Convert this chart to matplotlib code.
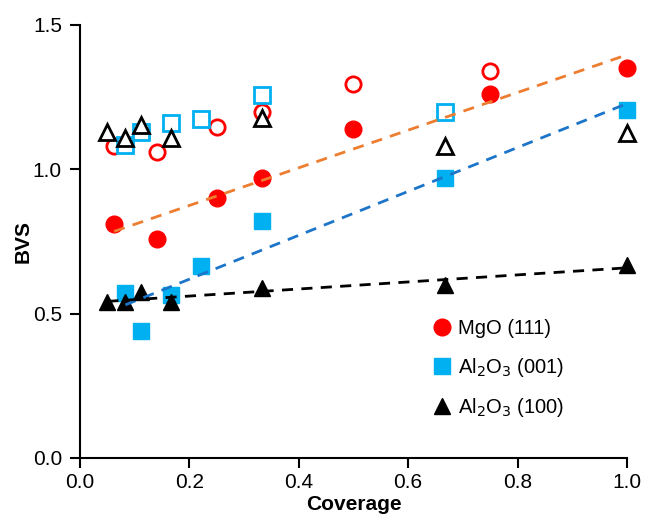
import numpy as np
import matplotlib
matplotlib.use('Agg')
import matplotlib.pyplot as plt
from matplotlib.lines import Line2D

plt.rcParams['font.family'] = ['Liberation Sans', 'DejaVu Sans']

# MgO (111)
mgo_x = [0.0625, 0.14, 0.25, 0.333, 0.5, 0.75, 1.0]
mgo_y = [0.81, 0.76, 0.90, 0.97, 1.14, 1.26, 1.35]
mgo_open_x = [0.0625, 0.14, 0.25, 0.333, 0.5, 0.75]
mgo_open_y = [1.08, 1.06, 1.145, 1.20, 1.295, 1.34]

# Al2O3 (001)
a001_x = [0.083, 0.111, 0.167, 0.222, 0.333, 0.667, 1.0]
a001_y = [0.57, 0.44, 0.565, 0.665, 0.82, 0.97, 1.205]
a001_open_x = [0.083, 0.111, 0.167, 0.222, 0.333, 0.667]
a001_open_y = [1.085, 1.13, 1.16, 1.175, 1.258, 1.20]

# Al2O3 (100)
a100_x = [0.05, 0.083, 0.111, 0.167, 0.333, 0.667, 1.0]
a100_y = [0.54, 0.54, 0.574, 0.54, 0.588, 0.60, 0.668]
a100_open_x = [0.05, 0.083, 0.111, 0.167, 0.333, 0.667, 1.0]
a100_open_y = [1.13, 1.11, 1.153, 1.107, 1.177, 1.08, 1.125]

red = '#FF0000'
cyan = '#00B0F0'
orange = '#ED7D31'
blue_line = '#1C75C8'

fig = plt.figure(figsize=(6.47, 5.15), dpi=100)
ax = fig.add_axes([0.1236, 0.1107, 0.8454, 0.8408])


def fit_line(x, y, color):
    k, b = np.polyfit(x, y, 1)
    xs = np.array([min(x), max(x)])
    ax.plot(xs, k * xs + b, color=color, linewidth=2, linestyle=(0, (4, 3)), zorder=5)


# open markers (behind)
ax.plot(mgo_open_x, mgo_open_y, 'o', ms=11, mfc='white', mec=red, mew=2, ls='none', zorder=2, clip_on=False)
ax.plot(a001_open_x, a001_open_y, 's', ms=11, mfc='white', mec=cyan, mew=2, ls='none', zorder=2, clip_on=False)
ax.plot(a100_open_x, a100_open_y, '^', ms=11, mfc='white', mec='black', mew=2, ls='none', zorder=2, clip_on=False)

# filled markers
ax.plot(mgo_x, mgo_y, 'o', ms=12, color=red, ls='none', zorder=4, clip_on=False)
ax.plot(a001_x, a001_y, 's', ms=11.5, color=cyan, ls='none', zorder=4, clip_on=False)
ax.plot(a100_x, a100_y, '^', ms=12, color='black', ls='none', zorder=4, clip_on=False)

fit_line(mgo_x, mgo_y, orange)
fit_line(a001_x, a001_y, blue_line)
fit_line(a100_x, a100_y, 'black')

ax.set_xlim(0, 1.0)
ax.set_ylim(0, 1.5)
ax.set_xticks([0.0, 0.2, 0.4, 0.6, 0.8, 1.0])
ax.set_yticks([0.0, 0.5, 1.0, 1.5])
ax.xaxis.set_major_formatter(matplotlib.ticker.FormatStrFormatter('%.1f'))
ax.yaxis.set_major_formatter(matplotlib.ticker.FormatStrFormatter('%.1f'))
ax.tick_params(direction='out', length=7, width=1.5, labelsize=15, pad=6)
ax.tick_params(axis='x', pad=4)
for s in ['top', 'right']:
    ax.spines[s].set_visible(False)
for s in ['left', 'bottom']:
    ax.spines[s].set_linewidth(1.5)

ax.set_xlabel('Coverage', fontsize=15, fontweight='bold', labelpad=2)
ax.set_ylabel('BVS', fontsize=15, fontweight='bold', labelpad=0)

handles = [
    Line2D([], [], marker='o', color=red, ls='none', ms=12),
    Line2D([], [], marker='s', color=cyan, ls='none', ms=11),
    Line2D([], [], marker='^', color='black', ls='none', ms=11),
]
labels = ['MgO (111)', 'Al$_2$O$_3$ (001)', 'Al$_2$O$_3$ (100)']
ax.legend(handles, labels, loc='upper left', bbox_to_anchor=(0.607, 0.362), frameon=False,
          fontsize=14.5, handletextpad=0.2, labelspacing=0.87, handlelength=1.2)

fig.savefig('out.png', dpi=100)
